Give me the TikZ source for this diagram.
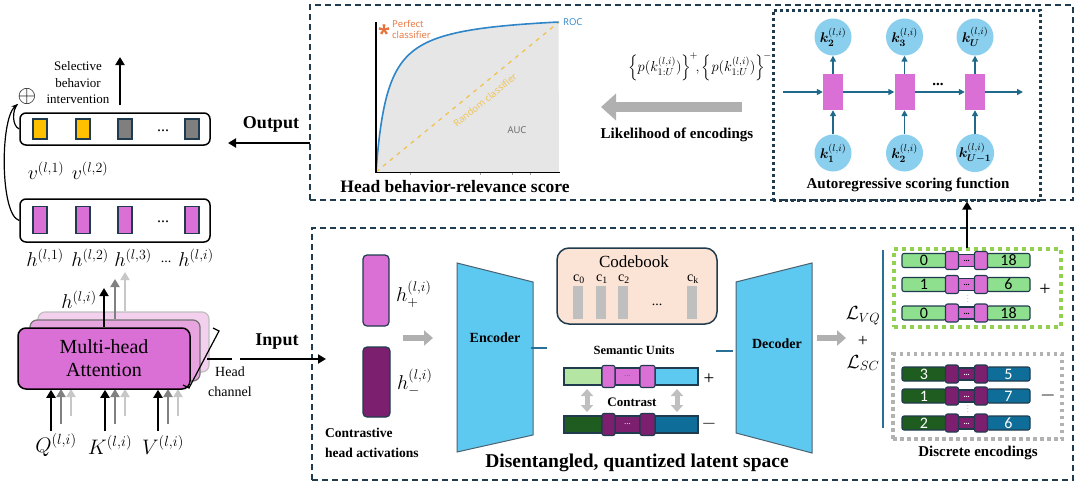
\RequirePackage{fix-cm}
\documentclass[tikz,border=0pt]{standalone}
\usepackage{fontspec}
\usepackage{amsmath,bm}
\setmainfont{Liberation Serif}
\newfontfamily\chartfont{Open Sans}
\newfontfamily\numfont{Carlito}
\usetikzlibrary{arrows.meta,calc,shapes.geometric}
\newcommand\fsz[2]{\fontsize{#1}{#2}\selectfont}
\definecolor{frame}{HTML}{1F3B4D}
\definecolor{orchid}{HTML}{DA70D6}
\definecolor{orchidmid}{HTML}{E6A5DF}
\definecolor{orchidlt}{HTML}{F2D0EE}
\definecolor{plum}{HTML}{7B1F6E}
\definecolor{sky}{HTML}{5DC9F1}
\definecolor{circ}{HTML}{8ACFEE}
\definecolor{lgreen}{HTML}{B4E5A2}
\definecolor{egreen}{HTML}{8EE08E}
\definecolor{dgreen}{HTML}{1E5C1F}
\definecolor{tealb}{HTML}{0F6E99}
\definecolor{peach}{HTML}{FBE3D6}
\definecolor{gold}{HTML}{FFC000}
\definecolor{midgray}{HTML}{7F7F7F}
\definecolor{arblue}{HTML}{1F6A8A}
\definecolor{rocblue}{HTML}{2E86C9}
\definecolor{rocorange}{HTML}{E8703A}
\definecolor{rocyellow}{HTML}{F0C24F}
\definecolor{rocgray}{HTML}{E6E6E6}
\definecolor{limeg}{HTML}{92D050}
\definecolor{linkteal}{HTML}{2A6F97}
\definecolor{blockgray}{HTML}{B0B0B0}
\tikzset{
  dbox/.style={draw=frame, line width=1.3, dash pattern=on 6pt off 4pt, inner sep=0},
  blk/.style={line width=2.6, -{Triangle[length=8pt,width=9pt]}},
  garr/.style={line width=2.6, draw=#1, -{Triangle[length=8pt,width=9pt]}},
  item/.style={draw=frame, line width=1.2, inner sep=0, minimum width=14},
  seg/.style={draw=frame, line width=1.1, rounded corners=2, inner sep=0, minimum height=14},
  sseg/.style={draw=frame, line width=1.1, inner sep=0, minimum height=17},
  lab/.style={inner sep=0, font=\fsz{20}{22}},
  bt/.style={inner sep=0, font=\bfseries\fsz{15}{18}},
  arr/.style={draw=arblue, line width=1.5, -{Triangle[length=6pt,width=6pt]}},
  kc/.style={circle, fill=circ, minimum size=37, inner sep=0, font=\fsz{14}{16}},
  blockarr/.style={line width=#1, draw=blockgray},
}
\begin{document}
\begin{tikzpicture}[x=1pt,y=-1pt]
\useasboundingbox (0,0) rectangle (1080,485);
\fill[white] (0,0) rectangle (1080,485);

% ---------------- dashed frames
\node[dbox, minimum width=763, minimum height=195] (topbox) at (691.5,102.5) {};
\node[dbox, minimum width=761, minimum height=252] (botbox) at (692.5,354) {};

% ---------------- left: head outputs
\node[draw, line width=1.5, rounded corners=6, minimum width=190, minimum height=32, inner sep=0] (vbox) at (115,129) {};
\node[item, fill=gold, minimum height=20] (v1) at (40,129) {};
\node[item, fill=gold, minimum height=20] (v2) at (83,129) {};
\node[item, fill=midgray, minimum height=20] (v3) at (125,129) {};
\node[item, fill=midgray, minimum height=20] (v4) at (192,129) {};
\node[inner sep=0, font=\fsz{16}{18}] (vdots) at (163,131) {...};
\node[lab] (vl1) at (46,171) {$v^{(l,1)}$};
\node[lab] (vl2) at (90,171) {$v^{(l,2)}$};

\node[draw, line width=1.5, rounded corners=6, minimum width=190, minimum height=43, inner sep=0] (hbox) at (115,220.5) {};
\node[item, fill=orchid, minimum height=27] (h1) at (40,220) {};
\node[item, fill=orchid, minimum height=27] (h2) at (83,220) {};
\node[item, fill=orchid, minimum height=27] (h3) at (125,220) {};
\node[item, fill=orchid, minimum height=27] (h4) at (192,220) {};
\node[inner sep=0, font=\fsz{16}{18}] (hdots) at (163,222) {...};
\node[lab] (hl1) at (45,258) {$h^{(l,1)}$};
\node[lab] (hl2) at (90,258) {$h^{(l,2)}$};
\node[lab] (hl3) at (133,258) {$h^{(l,3)}$};
\node[inner sep=0, font=\fsz{14}{16}] (hl4) at (166,262) {...};
\node[lab] (hl5) at (196,258) {$h^{(l,i)}$};

% selective intervention
\node[inner sep=0, font=\fsz{24}{24}] (oplus) at (27,96) {$\oplus$};
\node[inner sep=0, align=center, font=\fsz{13}{16.5}] (sel) at (78,83) {Selective\\behavior\\intervention};
\coordinate (selA) at (120,105);
\coordinate (selB) at (120,57);
\draw[blk] (selA) -- (selB);
\draw[line width=1.2, -{Stealth[length=6pt,width=5pt]}] (hbox.west) .. controls (0,215) and (0,120) .. (oplus.south west);
\draw[line width=1.2] (vbox.west) .. controls (12,126) and (12,110) .. (oplus.south west);

% ---------------- multi-head attention
\node[fill=orchidlt, draw=black!25, line width=1.2, rounded corners=7, minimum width=171, minimum height=60, inner sep=0] (lay3) at (123.5,342) {};
\node[fill=orchidmid, draw=black!55, line width=1.2, rounded corners=7, minimum width=170, minimum height=61, inner sep=0] (lay2) at (115,350.5) {};
\coordinate (mhab) at (104,389);
\coordinate (qa) at (51,431);  \coordinate (qg) at (61,424); \coordinate (ql) at (71,416);
\coordinate (ka) at (105,431); \coordinate (kg) at (115,424); \coordinate (kl) at (125,416);
\coordinate (va) at (158,431); \coordinate (vg) at (168,424); \coordinate (vl) at (178,416);
\foreach \c in {ql,kl,vl}{\draw[garr=black!22] (\c) -- (\c |- mhab);}
\foreach \c in {qg,kg,vg}{\draw[garr=black!50] (\c) -- (\c |- mhab);}
\node[fill=orchid, draw=black, line width=1.5, rounded corners=8, minimum width=172, minimum height=61, inner sep=0, align=center, font=\fsz{20}{23}] (mha) at (104,358.5) {Multi-head\\Attention};
\foreach \c in {qa,ka,va}{\draw[blk] (\c) -- (\c |- mha.south);}
\node[lab, font=\fsz{21}{22}] (Q) at (56,445) {$Q^{(l,i)}$};
\node[lab, font=\fsz{21}{22}] (K) at (110,445) {$K^{(l,i)}$};
\node[lab, font=\fsz{21}{22}] (V) at (163,445) {$V^{(l,i)}$};
\coordinate (hg2) at (125,272);
\coordinate (hg1) at (115,279);
\coordinate (hb) at (104,288);
\draw[garr=black!22] (lay3.north -| hg2) -- (hg2);
\draw[garr=black!50] (lay2.north -| hg1) -- (hg1);
\draw[blk] (mha.north) -- (hb);
\node[lab] (hli) at (79,300) {$h^{(l,i)}$};

% head channel
\draw[line width=1.2] (213,328) -- (219,331) -- (189,388) -- (183,385);
\coordinate (hcA) at (207,359);
\coordinate (hcB) at (232,359);
\draw[line width=1.2] (hcA) -- (hcB);
\node[inner sep=0, align=center, font=\fsz{14}{20}] (hch) at (230,382) {Head\\channel};

% input / output
\coordinate (inA) at (240,359);
\coordinate (inB) at (326,359);
\draw[blk] (inA) -- (inB);
\node[inner sep=0, font=\bfseries\fsz{18}{20}] (inl) at (277,342) {Input};
\coordinate (outA) at (310,143);
\coordinate (outB) at (228,143);
\draw[blk] (outA) -- (outB);
\node[inner sep=0, font=\bfseries\fsz{18}{20}] (outl) at (271,124) {Output};

% ---------------- ROC chart
\fill[rocgray] plot[domain=0:1, samples=120, smooth] ({376+183*\x*\x},{172-150*(\x*\x)*1.065/(\x*\x+0.065)}) -- (559,172) -- cycle;
\draw[rocyellow, line width=1.3, dash pattern=on 4pt off 5pt] (376,172) -- (559,22);
\draw[rocblue, line width=1.6] plot[domain=0:1, samples=120, smooth] ({376+183*\x*\x},{172-150*(\x*\x)*1.065/(\x*\x+0.065)});
\draw[line width=1.2] (376,22) -- (376,172.5) -- (560,172.5);
\foreach \t in {410,480,512,530}{\draw[black!40, line width=0.6] (\t,172.5) -- (\t,175);}
\node[inner sep=0, text=rocorange, font=\chartfont\bfseries\fsz{22}{22}] (star) at (384,33) {*};
\node[inner sep=0, anchor=west, align=left, text=rocorange, font=\chartfont\fsz{9.5}{10.5}] (perf) at (392,29.5) {Perfect\\classifier};
\node[inner sep=0, anchor=west, text=rocblue, font=\chartfont\fsz{9.5}{11}] (roc) at (563,22) {ROC};
\node[inner sep=0, rotate=39, text=rocyellow, font=\chartfont\fsz{9.5}{11}] (rand) at (485,100) {Random classifier};
\node[inner sep=0, text=black!60, font=\chartfont\fsz{9.5}{11}] (auc) at (517,130) {AUC};
\node[inner sep=0, font=\bfseries\fsz{17.5}{20}] (hbr) at (455,187) {Head behavior-relevance score};

% ---------------- likelihood
\node[inner sep=0, anchor=east, font=\fsz{14.5}{16}] (form) at (772,67) {$\Bigl\{p(k_{1:U}^{(l,i)})\Bigr\}^{\!+}\!,\Bigl\{p(k_{1:U}^{(l,i)})\Bigr\}^{\!-}$};
\coordinate (likA) at (742,107);
\coordinate (likB) at (601,107);
\draw[blockarr=10, -{Triangle[length=15pt,width=26pt]}, blockgray] (likA) -- (likB);
\node[bt] (lik) at (677,135) {Likelihood of encodings};

% ---------------- autoregressive scoring
\node[draw=frame, line width=3, dash pattern=on 3pt off 3pt, minimum width=267, minimum height=190, inner sep=0] (arbox) at (906.5,105) {};
\foreach \xx/\tp/\bt [count=\n] in {833/2/1, 904.5/3/2, 975/U/U-1}{
  \node[kc] (kt\n) at (\xx,37) {$\bm{k}_{\bm{\tp}}^{(l,i)}$};
  \node[kc] (kb\n) at (\xx,153) {$\bm{k}_{\bm{\bt}}^{(l,i)}$};
  \node[fill=orchid, minimum width=20, minimum height=36, inner sep=0] (r\n) at (\xx,92) {};
  \draw[arr] (kb\n) -- (r\n);
  \draw[arr] (r\n) -- (kt\n);
}
\coordinate (arIn) at (783,92);
\coordinate (arOut) at (1023,92);
\draw[arr] (arIn) -- (r1);
\draw[arr] (r1) -- (r2);
\draw[arr] (r2) -- (r3);
\draw[arr] (r3) -- (arOut);
\node[inner sep=0, font=\bfseries\fsz{15}{16}] (ardots) at (938,84) {...};
\node[bt] (arl) at (908,185) {Autoregressive scoring function};

% ---------------- bottom: contrastive activations
\node[fill=orchid, draw=frame, line width=1.2, rounded corners=4, minimum width=26, minimum height=71, inner sep=0] (hp) at (376,290.5) {};
\node[fill=plum, draw=frame, line width=1.2, rounded corners=4, minimum width=27, minimum height=70, inner sep=0] (hm) at (376.5,382) {};
\node[lab, anchor=west] (hpl) at (396,294) {$h_{+}^{(l,i)}$};
\node[lab, anchor=west] (hml) at (397,382) {$h_{-}^{(l,i)}$};
\coordinate (gA) at (403,338);
\coordinate (gB) at (433,338);
\draw[blockarr=6, -{Triangle[length=9pt,width=15pt]}] (gA) -- (gB);
\node[inner sep=0, anchor=west, align=left, font=\bfseries\fsz{13.5}{20}] (cha) at (325,443) {Contrastive\\head activations};

% encoder / decoder
\draw[fill=sky, draw=frame!80, line width=1] (457,263) -- (533,282) -- (533,435) -- (457,452) -- cycle;
\node[inner sep=0, font=\bfseries\fsz{14}{16}] (enc) at (495,338) {Encoder};
\draw[fill=sky, draw=frame!80, line width=1] (736,282) -- (812,263) -- (812,453) -- (736,433) -- cycle;
\node[inner sep=0, font=\bfseries\fsz{14}{16}] (dec) at (777,344) {Decoder};
\coordinate (eA) at (531,348); \coordinate (eB) at (547,348);
\draw[linkteal, line width=1.3] (eA) -- (eB);
\coordinate (dA) at (716,351); \coordinate (dB) at (733,351);
\draw[linkteal, line width=1.3] (dA) -- (dB);

% codebook
\node[fill=peach, draw=frame, line width=1.5, rounded corners=12, minimum width=160, minimum height=76, inner sep=0] (cb) at (637,286) {};
\node[inner sep=0, font=\fsz{17}{19}] (cbl) at (634,262) {Codebook};
\foreach \xx/\s [count=\n] in {578/0, 601/1, 623/2, 692/k}{
  \node[inner sep=0, font=\fsz{14}{16}] (cl\n) at (\xx+1,279) {c$_{\mathrm{\s}}$};
  \node[fill=black!25, minimum width=10, minimum height=33, inner sep=0] (cbar\n) at (\xx,302.5) {};
}
\node[inner sep=0, font=\fsz{14}{16}] (cbdots) at (657,305) {...};

% semantic units
\node[inner sep=0, font=\bfseries\fsz{12.5}{14}] (semu) at (634,350) {Semantic Units};
\node[sseg, fill=lgreen, minimum width=38] (sa) at (583,376.5) {};
\node[sseg, fill=sky, minimum width=43] (sb) at (676.5,376.5) {};
\node[sseg, fill=orchid, minimum width=25, text=black!60, font=\fsz{9}{10}] (sm) at (627.5,376.5) {...};
\node[sseg, fill=orchid, minimum width=13, minimum height=22, rounded corners=2] (sl) at (608.5,376.5) {};
\node[sseg, fill=orchid, minimum width=15, minimum height=22, rounded corners=2] (sr) at (647.5,376.5) {};
\node[inner sep=0, font=\fsz{19}{20}] (splus) at (709,379) {+};
\node[sseg, fill=dgreen, minimum width=38] (na) at (583,424.5) {};
\node[sseg, fill=tealb, minimum width=43] (nb) at (676.5,424.5) {};
\node[sseg, fill=plum, minimum width=25, text=white, font=\fsz{9}{10}] (nm) at (627.5,424.5) {...};
\node[sseg, fill=plum, minimum width=13, minimum height=22, rounded corners=2] (nl) at (608.5,424.5) {};
\node[sseg, fill=plum, minimum width=15, minimum height=22, rounded corners=2] (nr) at (647.5,424.5) {};
\node[inner sep=0, font=\fsz{19}{20}] (sminus) at (709,424) {$-$};
\coordinate (c1a) at (587,389); \coordinate (c1b) at (587,412);
\coordinate (c2a) at (677,389); \coordinate (c2b) at (677,412);
\draw[blockarr=5, black!25, {Triangle[length=7pt,width=12pt]}-{Triangle[length=7pt,width=12pt]}] (c1a) -- (c1b);
\draw[blockarr=5, black!25, {Triangle[length=7pt,width=12pt]}-{Triangle[length=7pt,width=12pt]}] (c2a) -- (c2b);
\node[inner sep=0, font=\bfseries\fsz{13}{14}] (contr) at (632,402) {Contrast};
\node[inner sep=0, font=\bfseries\fsz{19.5}{22}] (dql) at (637,463) {Disentangled, quantized latent space};

% losses
\coordinate (lA) at (817,338); \coordinate (lB) at (846,338);
\draw[blockarr=6, -{Triangle[length=9pt,width=15pt]}] (lA) -- (lB);
\node[inner sep=0, font=\fsz{19}{20}] (lvq) at (863,316) {$\mathcal{L}_{VQ}$};
\node[inner sep=0, font=\fsz{18}{18}] (lplus) at (863,341) {+};
\node[inner sep=0, font=\fsz{19}{20}] (lsc) at (863,363) {$\mathcal{L}_{SC}$};
\coordinate (vlA) at (883,250); \coordinate (vlB) at (883,428);
\draw[linkteal, line width=1.3] (vlA) -- (vlB);

% discrete encodings
\node[draw=limeg, line width=4, dash pattern=on 4pt off 4pt, minimum width=167, minimum height=78, inner sep=0] (gbox) at (977.5,288) {};
\node[draw=black!30, line width=3.5, dash pattern=on 3.5pt off 3.5pt, minimum width=169, minimum height=85, inner sep=0] (nbox) at (977.5,396.5) {};
\foreach \yy/\a/\b [count=\n] in {260.5/0/18, 284.5/1/6, 313/0/18}{
  \node[seg, fill=egreen, minimum width=44, font={\numfont\fsz{16}{16}}] (pa\n) at (924,\yy) {\a};
  \node[seg, fill=egreen, minimum width=43, font={\numfont\fsz{16}{16}}] (pb\n) at (1008.5,\yy) {\b};
  \node[seg, fill=orchid, minimum width=17, minimum height=12, rounded corners=0, font={\bfseries\fsz{8}{8}}] (pm\n) at (966.5,\yy) {\raisebox{-3pt}{...}};
  \node[seg, fill=orchid, minimum width=13, minimum height=18] (pl\n) at (952,\yy) {};
  \node[seg, fill=orchid, minimum width=13, minimum height=18] (pr\n) at (981,\yy) {};
}
\foreach \yy/\a/\b [count=\n] in {374/3/5, 396/1/7, 423/2/6}{
  \node[seg, fill=dgreen, minimum width=44, text=white, font={\numfont\fsz{16}{16}}] (na\n) at (924,\yy) {\a};
  \node[seg, fill=tealb, minimum width=43, text=white, font={\numfont\fsz{16}{16}}] (nb\n) at (1008.5,\yy) {\b};
  \node[seg, fill=plum, minimum width=17, minimum height=12, rounded corners=0, text=white, font={\bfseries\fsz{8}{8}}] (nm\n) at (966.5,\yy) {\raisebox{-3pt}{...}};
  \node[seg, fill=plum, minimum width=13, minimum height=18] (nl\n) at (952,\yy) {};
  \node[seg, fill=plum, minimum width=13, minimum height=18] (nr\n) at (981,\yy) {};
}
\node[inner sep=0, font=\fsz{5}{3}, align=center] (pvd) at (968,299.5) {.\\.\\.};
\node[inner sep=0, font=\fsz{5}{3}, align=center] (nvd) at (968,409.5) {.\\.\\.};
\node[inner sep=0, font=\fsz{20}{20}] (eplus) at (1045,290) {+};
\node[inner sep=0, font=\fsz{20}{20}] (eminus) at (1048,395) {$-$};
\node[bt] (dencl) at (978,453) {Discrete encodings};

\coordinate (upA) at (967,248);
\draw[blk] (upA) -- (upA |- arbox.south);
\end{tikzpicture}
\end{document}
